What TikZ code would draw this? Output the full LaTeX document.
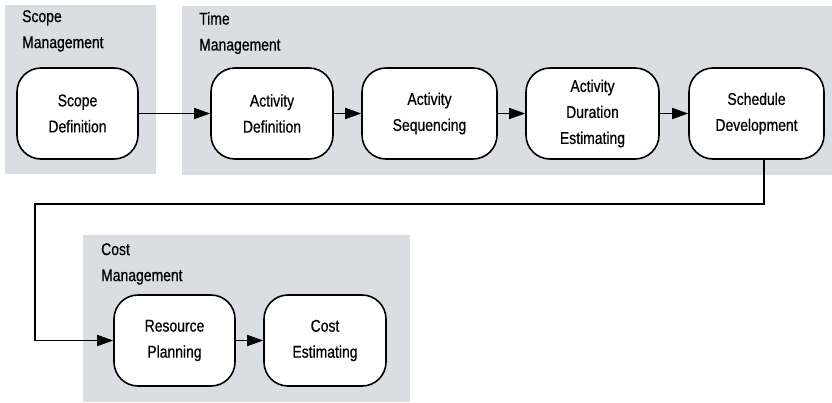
\documentclass[tikz,border=0pt]{standalone}
\usepackage{fontspec}
\setmainfont{Liberation Sans}[FakeStretch=0.82,FakeBold=0.6]
\usepackage{tikz}
\usetikzlibrary{positioning,arrows.meta}
\definecolor{pmgray}{RGB}{218,221,225}
\tikzset{proc/.style={draw,line width=1.6pt,fill=white,rounded corners=24pt,minimum height=91pt,align=center,
font=\fontsize{17}{26}\selectfont},grp/.style={fill=pmgray}}

\begin{document}
\begin{tikzpicture}[x=1pt,y=-1pt,flow/.style={-{Triangle[length=16pt,width=11pt]},line width=1.6pt},lbl/.style={anchor=north west,align=left,inner sep=0pt,font=\fontsize{17}{26}\selectfont}]
			\useasboundingbox (0,0) rectangle (832,402);
			% knowledge areas
			\fill[grp] (5,5) rectangle (156,174);
			\fill[grp] (182,6) rectangle (832,175);
			\fill[grp] (83,235) rectangle (410,402);

			\node[lbl] (scopelbl) at (22,10) {Scope\\Management};
			\node[lbl] (timelbl) at (199,12) {Time\\Management};
			\node[lbl] (costlbl) at (101,243) {Cost\\Management};

			\node[proc,minimum width=121pt] (scopedef) at (77.5,113.5) {Scope\\Definition};
			\node[proc,minimum width=122pt] (actdef) at (272,113.5) {Activity\\Definition};
			\node[proc,minimum width=135pt] (actseq) at (429.5,113.5) {Activity\\Sequencing};
			\node[proc,minimum width=133pt] (actdur) at (592.5,113.5) {Activity\\Duration\\Estimating};
			\node[proc,minimum width=135pt] (schdev) at (756.5,113.5) {Schedule\\Development};

			\node[proc,minimum width=121pt] (respl) at (174.5,340.5) {Resource\\Planning};
			\node[proc,minimum width=122pt] (costest) at (325,340.5) {Cost\\Estimating};

			\coordinate (turnA) at (764,204);
			\coordinate (turnB) at (35,340.5);

			\draw[flow] (scopedef) -- (actdef);
			\draw[flow] (actdef) -- (actseq);
			\draw[flow] (actseq) -- (actdur);
			\draw[flow] (actdur) -- (schdev);
			\draw[flow] (schdev.south -| turnA) -- (turnA) -| (turnB) -- (respl);
			\draw[flow] (respl) -- (costest);
		\end{tikzpicture}
\end{document}
